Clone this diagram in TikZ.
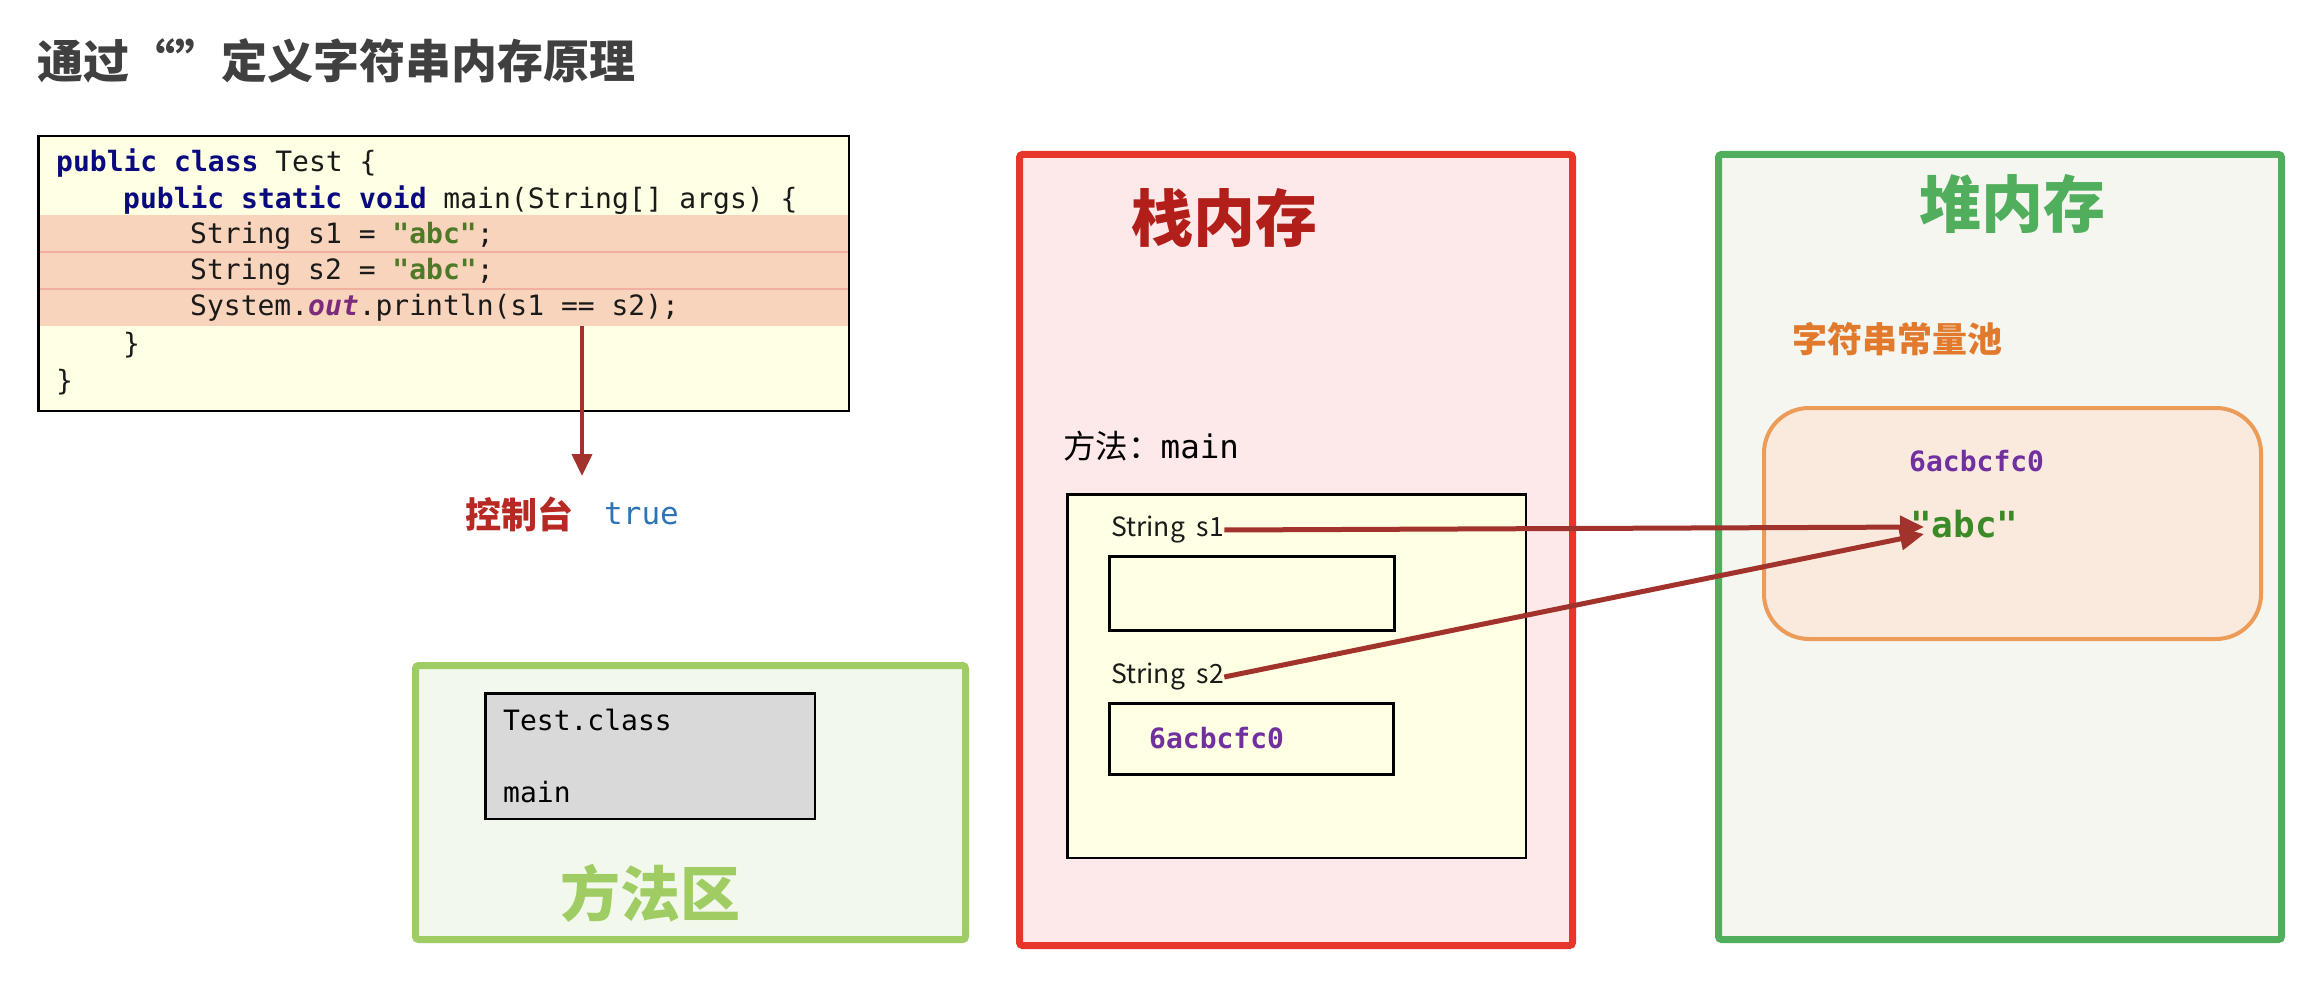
\documentclass[tikz,border=0pt]{standalone}
\usepackage{fontspec}
\usetikzlibrary{arrows.meta}
\newfontfamily\cjk{Noto Sans CJK SC}
\newfontfamily\mono{DejaVu Sans Mono}
\definecolor{titlegray}{HTML}{404040}
\definecolor{codebg}{HTML}{FFFFE3}
\definecolor{band}{HTML}{F9D4BC}
\definecolor{bandline}{HTML}{F2AE9E}
\definecolor{kw}{HTML}{0A0A80}
\definecolor{strgreen}{HTML}{4E7A27}
\definecolor{outpurple}{HTML}{7B2B7B}
\definecolor{codeink}{HTML}{1A1A1A}
\definecolor{arrowred}{HTML}{A2332C}
\definecolor{consolered}{HTML}{B72A24}
\definecolor{trueblue}{HTML}{2E74B5}
\definecolor{methgreen}{HTML}{A0CD63}
\definecolor{methfill}{HTML}{F3F8EC}
\definecolor{classgray}{HTML}{D9D9D9}
\definecolor{stackred}{HTML}{E8352A}
\definecolor{stackfill}{HTML}{FDE9E9}
\definecolor{stacktitle}{HTML}{B21F1A}
\definecolor{heapgreen}{HTML}{50AE5C}
\definecolor{heapfill}{HTML}{F5F6EF}
\definecolor{poolorange}{HTML}{E27A2E}
\definecolor{poolborder}{HTML}{EC9B58}
\definecolor{poolfill}{HTML}{FAEADD}
\definecolor{addrpurple}{HTML}{7030A0}
\definecolor{abcgreen}{HTML}{3B8A27}
\begin{document}
\begin{tikzpicture}[x=1pt,y=-1pt,
  box/.style={inner sep=0pt, outer sep=0pt, anchor=north west},
  codeline/.style={inner sep=0pt, anchor=west, text=codeink, font=\mono\fontsize{28}{33}\selectfont},
  lbl/.style={inner sep=0pt, anchor=west},
  ptr/.style={draw=arrowred, line width=5pt, -{Triangle[length=24pt,width=22pt]}},
]
\useasboundingbox (0,0) rectangle (2322,984);
\fill[white] (0,0) rectangle (2322,984);

% title
\node[lbl, text=titlegray, font=\cjk\bfseries\fontsize{46}{50}\selectfont] (title) at (37,61) {通过“”定义字符串内存原理};

% code box
\node[box, fill=codebg, minimum width=810.5, minimum height=274.5] (code) at (38.25,136.25) {};
\fill[band] (39.5,215) rectangle (848.5,326);
\draw[bandline, line width=1.5pt] (39.5,252) -- (848.5,252) (39.5,289) -- (848.5,289);
\draw[black, line width=2.5pt] (code.north west) rectangle (code.south east);
\node[codeline] (l1) at (56,163) {\textbf{\color{kw}public class} Test \{};
\node[codeline] (l2) at (123,200) {\textbf{\color{kw}public static void} main(String[] args) \{};
\node[codeline] (l3) at (190,236) {String s1 = {\bfseries\color{strgreen}"abc"};};
\node[codeline] (l4) at (190,272) {String s2 = {\bfseries\color{strgreen}"abc"};};
\node[codeline] (l5) at (190,308) {System.{\bfseries\itshape\color{outpurple}out}.println(s1 == s2);};
\node[codeline] (l6) at (123,345) {\}};
\node[codeline] (l7) at (56,382) {\}};

% console
\coordinate (cstart) at (582,326);
\coordinate (cend) at (582,476);
\draw[ptr, line width=4pt, -{Triangle[length=22pt,width=20pt]}] (cstart) -- (cend);
\node[lbl, text=consolered, font=\cjk\bfseries\fontsize{36}{40}\selectfont] (console) at (465,514) {控制台};
\node[lbl, text=trueblue, font=\mono\fontsize{31}{36}\selectfont] (true) at (604,514) {true};

% method area
\node[box, draw=methgreen, fill=methfill, line width=7pt, rounded corners=3pt, minimum width=550, minimum height=274] (method) at (415.5,665.5) {};
\node[box, draw=black, fill=classgray, line width=2.5pt, minimum width=329.5, minimum height=125.5] (cls) at (485.25,693.25) {};
\node[codeline, text=black] (tc) at (503,720) {Test.class};
\node[codeline, text=black] (tm) at (503,792) {main};
\node[inner sep=0pt, text=methgreen, font=\cjk\bfseries\fontsize{60}{64}\selectfont] (methtitle) at (650,893) {方法区};

% stack
\node[box, draw=stackred, fill=stackfill, line width=7pt, rounded corners=3pt, minimum width=553, minimum height=791] (stack) at (1019.5,154.5) {};
\node[lbl, text=stacktitle, font=\cjk\bfseries\fontsize{62}{66}\selectfont] (stacktitle) at (1131,218) {栈内存};
\node[lbl, font=\fontsize{32.5}{36}\selectfont] (mname) at (1063,446) {{\cjk 方法：}{\mono main}};
\node[box, draw=black, fill=codebg, line width=2.5pt, minimum width=458.5, minimum height=363.5] (frame) at (1067.25,494.25) {};
\node[lbl, text=codeink, font=\cjk\fontsize{26.5}{30}\selectfont] (s1) at (1111,530) {String\hspace{12pt}s1};
\node[box, draw=black, line width=3pt, minimum width=284.5, minimum height=73.5] (b1) at (1109.5,556.5) {};
\node[lbl, text=codeink, font=\cjk\fontsize{26.5}{30}\selectfont] (s2) at (1111,677) {String\hspace{12pt}s2};
\node[box, draw=black, line width=3pt, minimum width=284, minimum height=71] (b2) at (1109.5,703.5) {};
\node[lbl, text=addrpurple, font=\mono\bfseries\fontsize{28}{32}\selectfont] (addr2) at (1149,738) {6acbcfc0};

% heap
\node[box, draw=heapgreen, fill=heapfill, line width=7pt, rounded corners=3pt, minimum width=563, minimum height=785] (heap) at (1718.5,154.5) {};
\node[inner sep=0pt, text=heapgreen, font=\cjk\bfseries\fontsize{62}{66}\selectfont] (heaptitle) at (2012,204) {堆内存};
\node[lbl, text=poolorange, font=\cjk\bfseries\fontsize{35}{40}\selectfont] (pooltitle) at (1792,339) {字符串常量池};
\node[box, draw=poolborder, fill=poolfill, line width=4pt, rounded corners=45pt, minimum width=497, minimum height=231] (pool) at (1764,408) {};
\node[lbl, text=addrpurple, font=\mono\bfseries\fontsize{28}{32}\selectfont] (addr1) at (1909,461) {6acbcfc0};
\node[lbl, text=abcgreen, font=\mono\bfseries\fontsize{36}{40}\selectfont] (abc) at (1910,524) {"abc"};

% pointers
\coordinate (abc1) at (1924,527);
\coordinate (abc2) at (1924,534);
\draw[ptr] (s1.east) -- (abc1);
\draw[ptr] (s2.east) -- (abc2);
\end{tikzpicture}
\end{document}
